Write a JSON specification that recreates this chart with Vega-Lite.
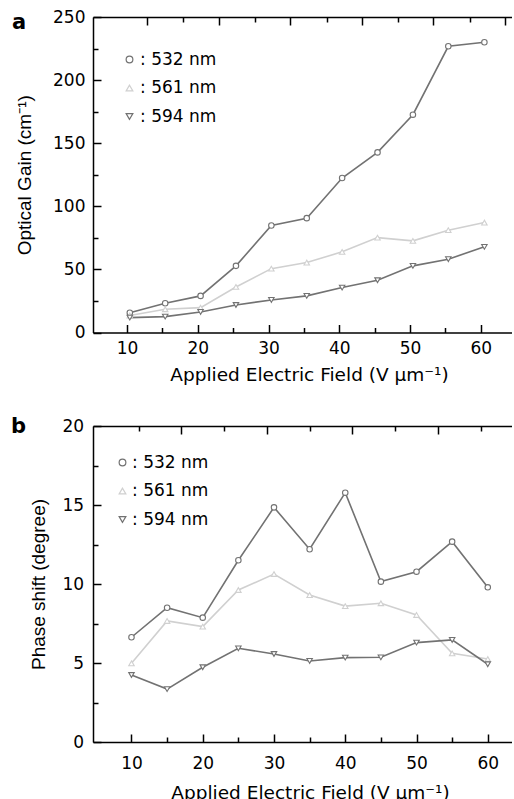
{
  "$schema": "https://vega.github.io/schema/vega-lite/v6.json",
  "background": "white",
  "padding": {"left": 11, "top": 8, "right": 0, "bottom": 0},
  "spacing": 33,
  "resolve": {
    "scale": {"shape": "independent", "stroke": "independent", "color": "independent", "strokeDash": "independent"},
    "legend": {"shape": "independent", "stroke": "independent", "color": "independent", "strokeDash": "independent"}
  },
  "config": {
    "view": {"stroke": null},
    "font": "DejaVu Sans",
    "axis": {
      "grid": false,
      "domainColor": "black",
      "domainWidth": 1.5,
      "tickColor": "black",
      "tickWidth": 1.5,
      "labelColor": "black",
      "labelFont": "DejaVu Sans",
      "labelFontSize": 17,
      "labelFlush": false,
      "labelOverlap": false,
      "titleColor": "black",
      "titleFont": "DejaVu Sans",
      "titleFontSize": 18.5,
      "titleFontWeight": "normal"
    },
    "legend": {
      "orient": "none",
      "labelFont": "DejaVu Sans",
      "labelFontSize": 17,
      "labelColor": "black",
      "symbolSize": 45,
      "symbolStrokeWidth": 1.2,
      "symbolFillColor": "white",
      "rowPadding": 10.5,
      "padding": 0
    }
  },
  "datasets": {
    "gain": [
      {"series": "532 nm", "x": 10.4, "y": 15.7},
      {"series": "532 nm", "x": 15.4, "y": 23.2},
      {"series": "532 nm", "x": 20.4, "y": 29},
      {"series": "532 nm", "x": 25.4, "y": 52.8},
      {"series": "532 nm", "x": 30.4, "y": 84.8},
      {"series": "532 nm", "x": 35.4, "y": 90.6},
      {"series": "532 nm", "x": 40.4, "y": 122.4},
      {"series": "532 nm", "x": 45.4, "y": 142.7},
      {"series": "532 nm", "x": 50.4, "y": 172.6},
      {"series": "532 nm", "x": 55.4, "y": 226.8},
      {"series": "532 nm", "x": 60.5, "y": 230},
      {"series": "561 nm", "x": 10.4, "y": 13.5},
      {"series": "561 nm", "x": 15.4, "y": 18.4},
      {"series": "561 nm", "x": 20.4, "y": 19.7},
      {"series": "561 nm", "x": 25.4, "y": 36.1},
      {"series": "561 nm", "x": 30.4, "y": 50.6},
      {"series": "561 nm", "x": 35.4, "y": 55.4},
      {"series": "561 nm", "x": 40.4, "y": 63.9},
      {"series": "561 nm", "x": 45.4, "y": 75.2},
      {"series": "561 nm", "x": 50.4, "y": 72.6},
      {"series": "561 nm", "x": 55.4, "y": 81.1},
      {"series": "561 nm", "x": 60.5, "y": 87.1},
      {"series": "594 nm", "x": 10.4, "y": 11.8},
      {"series": "594 nm", "x": 15.4, "y": 12.6},
      {"series": "594 nm", "x": 20.4, "y": 16.3},
      {"series": "594 nm", "x": 25.4, "y": 21.8},
      {"series": "594 nm", "x": 30.4, "y": 25.8},
      {"series": "594 nm", "x": 35.4, "y": 29},
      {"series": "594 nm", "x": 40.4, "y": 35.6},
      {"series": "594 nm", "x": 45.4, "y": 41.4},
      {"series": "594 nm", "x": 50.4, "y": 52.8},
      {"series": "594 nm", "x": 55.4, "y": 58.1},
      {"series": "594 nm", "x": 60.5, "y": 67.9}
    ],
    "phase": [
      {"series": "532 nm", "x": 10, "y": 6.63},
      {"series": "532 nm", "x": 15, "y": 8.5},
      {"series": "532 nm", "x": 20, "y": 7.87},
      {"series": "532 nm", "x": 25, "y": 11.5},
      {"series": "532 nm", "x": 30, "y": 14.85},
      {"series": "532 nm", "x": 35, "y": 12.2},
      {"series": "532 nm", "x": 40, "y": 15.78},
      {"series": "532 nm", "x": 45, "y": 10.15},
      {"series": "532 nm", "x": 50, "y": 10.78},
      {"series": "532 nm", "x": 55, "y": 12.68},
      {"series": "532 nm", "x": 60, "y": 9.79},
      {"series": "561 nm", "x": 10, "y": 4.98},
      {"series": "561 nm", "x": 15, "y": 7.66},
      {"series": "561 nm", "x": 20, "y": 7.3},
      {"series": "561 nm", "x": 25, "y": 9.62},
      {"series": "561 nm", "x": 30, "y": 10.63},
      {"series": "561 nm", "x": 35, "y": 9.3},
      {"series": "561 nm", "x": 40, "y": 8.6},
      {"series": "561 nm", "x": 45, "y": 8.78},
      {"series": "561 nm", "x": 50, "y": 8.04},
      {"series": "561 nm", "x": 55, "y": 5.61},
      {"series": "561 nm", "x": 60, "y": 5.25},
      {"series": "594 nm", "x": 10, "y": 4.24},
      {"series": "594 nm", "x": 15, "y": 3.35},
      {"series": "594 nm", "x": 20, "y": 4.73},
      {"series": "594 nm", "x": 25, "y": 5.93},
      {"series": "594 nm", "x": 30, "y": 5.57},
      {"series": "594 nm", "x": 35, "y": 5.13},
      {"series": "594 nm", "x": 40, "y": 5.34},
      {"series": "594 nm", "x": 45, "y": 5.36},
      {"series": "594 nm", "x": 50, "y": 6.29},
      {"series": "594 nm", "x": 55, "y": 6.46},
      {"series": "594 nm", "x": 60, "y": 4.92}
    ]
  },
  "vconcat": [
    {
      "width": 419,
      "height": 315.5,
      "data": {"name": "gain"},
      "layer": [
        {
          "mark": {"type": "line", "strokeWidth": 1.6},
          "encoding": {
            "x": {"field": "x", "type": "quantitative", "scale": {"domain": [5.2, 64.4], "nice": false, "zero": false},
              "axis": {"orient": "bottom", "values": [10, 20, 30, 40, 50, 60], "tickSize": -8,
                "labelPadding": 16, "title": "Applied Electric Field (V µm⁻¹)", "titleX": 216, "titlePadding": 9}},
            "y": {"field": "y", "type": "quantitative", "scale": {"domain": [0, 250], "nice": false},
              "axis": {"orient": "left", "values": [0, 50, 100, 150, 200, 250], "tickSize": -8,
                "labelPadding": 16, "title": "Optical Gain (cm⁻¹)", "titleFont": "Liberation Sans", "titleFontSize": 19, "titlePadding": 18}},
            "color": {"field": "series", "type": "nominal", "scale": {"domain": ["561 nm", "532 nm", "594 nm"], "range": ["#d0d0d0", "#727272", "#727272"]}, "legend": null}
          }
        },
        {
          "mark": {"type": "point", "fill": "white", "filled": false, "strokeWidth": 1.1, "opacity": 1, "size": 30},
          "encoding": {
            "x": {"field": "x", "type": "quantitative", "axis": null},
            "y": {"field": "y", "type": "quantitative", "axis": null},
            "shape": {"field": "series", "type": "nominal", "scale": {"domain": ["532 nm", "561 nm", "594 nm"], "range": ["circle", "triangle-up", "triangle-down"]},
              "legend": {"title": null, "legendX": 28, "legendY": 34, "labelOffset": 2, "labelExpr": "': ' + datum.label"}},
            "stroke": {"field": "series", "type": "nominal", "scale": {"domain": ["532 nm", "561 nm", "594 nm"], "range": ["#727272", "#d0d0d0", "#727272"]},
              "legend": {"title": null, "legendX": 28, "legendY": 34, "labelOffset": 2, "labelExpr": "': ' + datum.label"}}
          }
        },
        {
          "mark": {"type": "point", "opacity": 0},
          "encoding": {
            "x": {"field": "x", "type": "quantitative",
              "axis": {"orient": "bottom", "values": [15, 25, 35, 45, 55], "labels": false, "domain": false, "title": null, "tickSize": -5}},
            "y": {"field": "y", "type": "quantitative",
              "axis": {"orient": "left", "values": [25, 75, 125, 175, 225], "labels": false, "domain": false, "title": null, "tickSize": -5}},
            "strokeDash": {"datum": "a", "type": "nominal",
              "legend": {"title": "a", "legendX": -81, "legendY": 12, "titleFont": "DejaVu Sans", "titleFontSize": 21, "titleFontWeight": "bold", "titleColor": "black", "titleBaseline": "alphabetic", "titlePadding": 0, "labelExpr": "''", "symbolOpacity": 0, "symbolSize": 1}}
          }
        },
        {
          "mark": {"type": "point", "opacity": 0},
          "encoding": {
            "x": {"field": "x", "type": "quantitative",
              "axis": {"orient": "top", "values": [12.8, 23, 33.1, 43.2, 53.3, 63.4], "labels": false, "title": null, "tickSize": -8}},
            "y": {"field": "y", "type": "quantitative", "axis": null}
          }
        },
        {
          "mark": {"type": "point", "opacity": 0},
          "encoding": {
            "x": {"field": "x", "type": "quantitative",
              "axis": {"orient": "top", "values": [17.9, 28.1, 38.2, 48.3, 58.4], "labels": false, "domain": false, "title": null, "tickSize": -5}},
            "y": {"field": "y", "type": "quantitative", "axis": null}
          }
        }
      ],
      "resolve": {"axis": {"x": "independent", "y": "independent"}}
    },
    {
      "width": 419,
      "height": 316,
      "data": {"name": "phase"},
      "layer": [
        {
          "mark": {"type": "line", "strokeWidth": 1.6},
          "encoding": {
            "x": {"field": "x", "type": "quantitative", "scale": {"domain": [4.6, 63.4], "nice": false, "zero": false},
              "axis": {"orient": "bottom", "values": [10, 20, 30, 40, 50, 60], "tickSize": -8,
                "labelPadding": 21, "title": "Applied Electric Field (V µm⁻¹)", "titleX": 217, "titlePadding": 12}},
            "y": {"field": "y", "type": "quantitative", "scale": {"domain": [0, 20], "nice": false},
              "axis": {"orient": "left", "values": [0, 5, 10, 15, 20], "tickSize": -8,
                "labelPadding": 17.4, "title": "Phase shift (degree)", "titleFont": "Liberation Sans", "titleFontSize": 19, "titlePadding": 13.5}},
            "color": {"field": "series", "type": "nominal", "scale": {"domain": ["561 nm", "532 nm", "594 nm"], "range": ["#d0d0d0", "#727272", "#727272"]}, "legend": null}
          }
        },
        {
          "mark": {"type": "point", "fill": "white", "filled": false, "strokeWidth": 1.1, "opacity": 1, "size": 30},
          "encoding": {
            "x": {"field": "x", "type": "quantitative", "axis": null},
            "y": {"field": "y", "type": "quantitative", "axis": null},
            "shape": {"field": "series", "type": "nominal", "scale": {"domain": ["532 nm", "561 nm", "594 nm"], "range": ["circle", "triangle-up", "triangle-down"]},
              "legend": {"title": null, "legendX": 21, "legendY": 28, "labelOffset": 1, "labelExpr": "': ' + datum.label"}},
            "stroke": {"field": "series", "type": "nominal", "scale": {"domain": ["532 nm", "561 nm", "594 nm"], "range": ["#727272", "#d0d0d0", "#727272"]},
              "legend": {"title": null, "legendX": 21, "legendY": 28, "labelOffset": 1, "labelExpr": "': ' + datum.label"}}
          }
        },
        {
          "mark": {"type": "point", "opacity": 0},
          "encoding": {
            "x": {"field": "x", "type": "quantitative",
              "axis": {"orient": "bottom", "values": [15, 25, 35, 45, 55], "labels": false, "domain": false, "title": null, "tickSize": -5}},
            "y": {"field": "y", "type": "quantitative",
              "axis": {"orient": "left", "values": [2.5, 7.5, 12.5, 17.5], "labels": false, "domain": false, "title": null, "tickSize": -5}},
            "strokeDash": {"datum": "b", "type": "nominal",
              "legend": {"title": "b", "legendX": -82, "legendY": 7, "titleFont": "DejaVu Sans", "titleFontSize": 21, "titleFontWeight": "bold", "titleColor": "black", "titleBaseline": "alphabetic", "titlePadding": 0, "labelExpr": "''", "symbolOpacity": 0, "symbolSize": 1}}
          }
        },
        {
          "mark": {"type": "point", "opacity": 0},
          "encoding": {
            "x": {"field": "x", "type": "quantitative",
              "axis": {"orient": "top", "values": [17, 29, 41, 53], "labels": false, "title": null, "tickSize": -8}},
            "y": {"field": "y", "type": "quantitative", "axis": null}
          }
        },
        {
          "mark": {"type": "point", "opacity": 0},
          "encoding": {
            "x": {"field": "x", "type": "quantitative",
              "axis": {"orient": "top", "values": [11, 23, 35, 47, 59], "labels": false, "domain": false, "title": null, "tickSize": -5}},
            "y": {"field": "y", "type": "quantitative", "axis": null}
          }
        }
      ],
      "resolve": {"axis": {"x": "independent", "y": "independent"}}
    }
  ]
}
